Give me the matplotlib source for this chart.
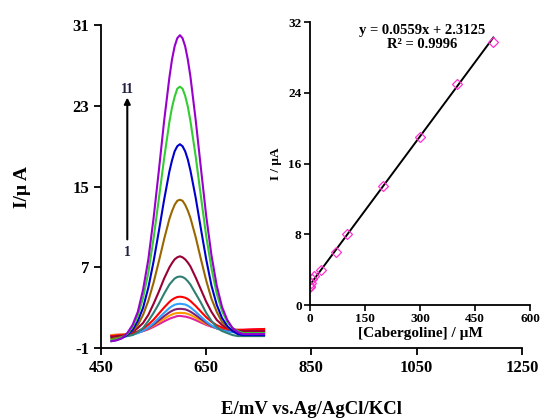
import numpy as np
import matplotlib
matplotlib.use('Agg')
import matplotlib.pyplot as plt

plt.rcParams['font.family'] = ['Liberation Serif', 'DejaVu Serif']
plt.rcParams['font.weight'] = 'bold'
plt.rcParams['axes.unicode_minus'] = False

# potential axis (mV) for the voltammograms
E = [470, 480, 490, 500, 510, 520, 530, 540, 550, 560, 570, 580,
     585, 590, 595, 600, 605, 610, 615,
     620, 630, 640, 650, 660, 670, 680, 690, 700, 710, 720, 730, 740, 750, 760]

# currents (uA), curve 11 down to curve 1
c11 = [-0.3, -0.2, 0.0, 0.5, 1.3, 2.6, 4.8, 7.8, 11.9, 16.6, 21.5, 25.8,
       27.6, 28.9, 29.7, 30.0, 29.7, 28.9, 27.6,
       25.9, 21.6, 16.8, 12.1, 8.2, 5.2, 3.1, 1.8, 1.0, 0.6, 0.4, 0.4, 0.4, 0.4, 0.4]
c10 = [-0.2, -0.1, 0.1, 0.4, 1.1, 2.2, 4.0, 6.5, 9.9, 13.8, 17.8, 21.4,
       22.85, 23.9, 24.7, 24.9, 24.7, 24.0, 22.94,
       21.5, 18.0, 14.0, 10.1, 6.9, 4.4, 2.7, 1.6, 1.0, 0.7, 0.5, 0.5, 0.5, 0.5, 0.5]
c9 = [-0.3, -0.2, 0.0, 0.3, 0.8, 1.7, 3.0, 5.0, 7.6, 10.6, 13.7, 16.5,
      17.6, 18.5, 19.0, 19.2, 19.0, 18.5, 17.7,
      16.6, 13.9, 10.8, 7.8, 5.2, 3.3, 2.0, 1.2, 0.7, 0.4, 0.3, 0.3, 0.3, 0.3, 0.3]
c8 = [-0.1, 0.0, 0.1, 0.3, 0.7, 1.3, 2.3, 3.7, 5.5, 7.6, 9.8, 11.8,
      12.57, 13.2, 13.6, 13.7, 13.6, 13.2, 12.63,
      11.9, 10.0, 7.8, 5.7, 3.9, 2.6, 1.6, 1.1, 0.7, 0.6, 0.5, 0.5, 0.5, 0.5, 0.5]
c7 = [0.1, 0.2, 0.2, 0.4, 0.6, 1.0, 1.5, 2.3, 3.4, 4.6, 5.9, 7.0,
      7.43, 7.8, 8.0, 8.1, 8.0, 7.8, 7.49,
      7.1, 6.0, 4.8, 3.6, 2.6, 1.8, 1.3, 1.0, 0.8, 0.7, 0.7, 0.7, 0.7, 0.7, 0.7]
c6 = [0.0, 0.0, 0.1, 0.2, 0.3, 0.6, 1.0, 1.7, 2.5, 3.4, 4.4, 5.3,
      5.61, 5.9, 6.05, 6.1, 6.05, 5.9, 5.63,
      5.3, 4.4, 3.5, 2.5, 1.7, 1.1, 0.7, 0.5, 0.3, 0.2, 0.2, 0.2, 0.2, 0.2, 0.2]
c5 = [0.2, 0.24, 0.29, 0.36, 0.49, 0.67, 0.94, 1.33, 1.83, 2.43, 3.03, 3.58,
      3.8, 3.96, 4.07, 4.1, 4.07, 4.0, 3.87,
      3.67, 3.18, 2.62, 2.07, 1.62, 1.28, 1.06, 0.92, 0.85, 0.82, 0.82, 0.84, 0.86, 0.88, 0.9]
c4 = [0.11, 0.14, 0.17, 0.23, 0.33, 0.49, 0.72, 1.05, 1.48, 1.99, 2.5, 2.97,
      3.16, 3.3, 3.37, 3.4, 3.37, 3.33, 3.21,
      3.04, 2.61, 2.12, 1.65, 1.26, 0.96, 0.76, 0.64, 0.58, 0.55, 0.55, 0.56, 0.57, 0.58, 0.6]
c3 = [0.21, 0.23, 0.26, 0.32, 0.4, 0.53, 0.72, 0.99, 1.34, 1.76, 2.17, 2.55,
      2.7, 2.82, 2.88, 2.9, 2.88, 2.85, 2.75,
      2.62, 2.28, 1.89, 1.51, 1.2, 0.96, 0.8, 0.71, 0.67, 0.64, 0.64, 0.66, 0.68, 0.68, 0.7]
c2 = [0.3, 0.33, 0.35, 0.4, 0.47, 0.58, 0.73, 0.96, 1.24, 1.58, 1.91, 2.22,
      2.34, 2.44, 2.48, 2.5, 2.48, 2.47, 2.39,
      2.29, 2.02, 1.71, 1.41, 1.17, 0.97, 0.85, 0.78, 0.75, 0.73, 0.74, 0.75, 0.77, 0.78, 0.8]
c1 = [0.3, 0.33, 0.36, 0.4, 0.46, 0.56, 0.69, 0.87, 1.11, 1.38, 1.66, 1.91,
      2.01, 2.09, 2.18, 2.2, 2.16, 2.13, 2.07,
      1.99, 1.78, 1.54, 1.31, 1.12, 0.98, 0.89, 0.84, 0.82, 0.81, 0.82, 0.84, 0.86, 0.88, 0.9]

curves = [c1, c2, c3, c4, c5, c6, c7, c8, c9, c10, c11]
colors = ['#E020A0', '#FF9900', '#7F2070', '#33A0FF', '#FF0000', '#2E7F72',
          '#990033', '#996600', '#0000CC', '#33CC33', '#9900CC']

# calibration data for the inset
conc = [0.5, 1, 3, 5, 10, 30, 70, 100, 200, 300, 400, 500]
peak = [2.0, 2.2, 2.5, 2.9, 3.3, 4.0, 6.0, 8.0, 13.5, 19.0, 25.0, 29.8]
slope, icpt = 0.0559, 2.3125

fig = plt.figure(figsize=(5.43, 4.18), dpi=100)
ax = fig.add_axes([0.186, 0.167, 0.775, 0.773])
for y, col in zip(curves, colors):
    ax.plot(E, y, color=col, lw=1.5, solid_joinstyle='round')
ax.set_xlim(450, 1250)
ax.set_ylim(-1, 31)
ax.set_xticks([450, 650, 850, 1050, 1250])
ax.set_yticks([-1, 7, 15, 23, 31])
ax.spines['top'].set_visible(False)
ax.spines['right'].set_visible(False)
for s in ['left', 'bottom']:
    ax.spines[s].set_linewidth(1.3)
ax.tick_params(direction='out', length=5, width=1.3, labelsize=12)
ax.set_xlabel('E/mV vs.Ag/AgCl/KCl', fontsize=13.5, fontweight='bold', labelpad=18)
ax.set_ylabel('I/µ A', fontsize=14, fontweight='bold', labelpad=30)
ax.annotate('', xy=(500, 24.1), xytext=(500, 9.5),
            arrowprops=dict(arrowstyle='-|>', color='black', lw=1.5, mutation_scale=9))
ax.text(500, 24.0, '11', ha='center', va='bottom', fontsize=10, color='#1F1F3F')
ax.text(500, 9.1, '1', ha='center', va='top', fontsize=10, color='#1F1F3F')

ins = fig.add_axes([0.571, 0.270, 0.405, 0.677])
ins.patch.set_alpha(0)
xfit = np.array([0, 500])
ins.plot(xfit, slope * xfit + icpt, color='black', lw=1.4)
ins.plot(conc, peak, ls='none', marker='D', ms=5.5, mfc='none', mec='#FF33CC', mew=0.9)
ins.set_xlim(0, 600)
ins.set_ylim(0, 32)
ins.set_xticks([0, 150, 300, 450, 600])
ins.set_yticks([0, 8, 16, 24, 32])
ins.spines['top'].set_visible(False)
ins.spines['right'].set_visible(False)
for s in ['left', 'bottom']:
    ins.spines[s].set_linewidth(1.3)
ins.tick_params(direction='out', length=4, width=1.2, labelsize=9.5, pad=2)
ins.set_xlabel('[Cabergoline] / µM', fontsize=11, fontweight='bold', labelpad=1)
ins.set_ylabel('I / µA', fontsize=9.5, fontweight='bold', labelpad=5)
ins.text(0.511, 0.969, 'y = 0.0559x + 2.3125', transform=ins.transAxes,
         ha='center', va='center', fontsize=10.5)
ins.text(0.511, 0.922, 'R² = 0.9996', transform=ins.transAxes,
         ha='center', va='center', fontsize=10.5)

fig.savefig('out.png', dpi=100)
